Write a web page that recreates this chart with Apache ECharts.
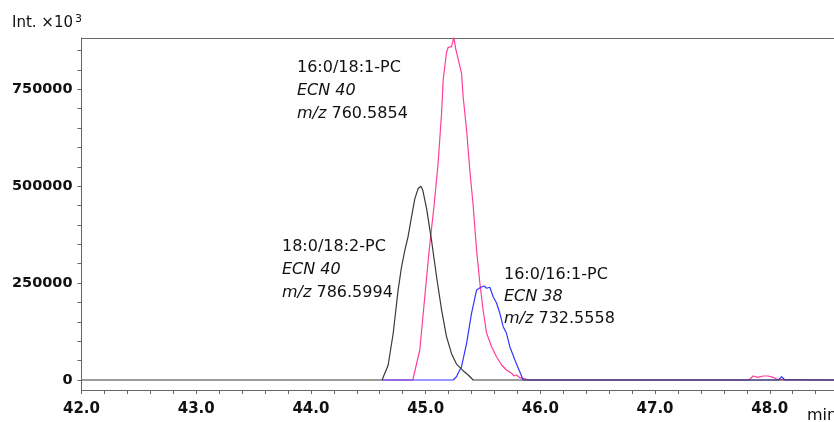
<!DOCTYPE html>
<html>
<head>
<meta charset="utf-8">
<script src="https://cdn.jsdelivr.net/npm/echarts@6/dist/echarts.min.js"></script>
<style>
html, body { margin: 0; padding: 0; background: #fff; }
#chart { width: 834px; height: 422px; }
</style>
</head>
<body>
<div id="chart"></div>
<script>
// retention time (min) and intensity for each trace
let pinkT = [44.62, 44.888, 44.949, 44.99, 45.031, 45.074, 45.109, 45.139, 45.153, 45.182, 45.196, 45.226, 45.246, 45.262, 45.298, 45.313, 45.327, 45.357, 45.385, 45.414, 45.444, 45.473, 45.501, 45.531, 45.575, 45.618, 45.662, 45.705, 45.749, 45.77, 45.793, 45.82, 45.836, 45.865, 45.88, 45.908, 47.82, 47.855, 47.899, 47.942, 47.986, 48.03, 48.065, 48.075, 48.56];
let pinkV = [0, 0, 77400, 206400, 335400, 451500, 559900, 688900, 774000, 845000, 858000, 860000, 884000, 855000, 810000, 791300, 730900, 645000, 541800, 451500, 335400, 249500, 180600, 121300, 85900, 60100, 38700, 25800, 17300, 11000, 12900, 6000, 8500, 3000, 4400, 0, 0, 10300, 6900, 10300, 10300, 6900, 1700, 0, 0];

let blueT = [44.62, 45.24, 45.269, 45.283, 45.313, 45.357, 45.40, 45.444, 45.481, 45.51, 45.531, 45.56, 45.589, 45.618, 45.647, 45.676, 45.705, 45.734, 45.778, 45.821, 45.85, 48.075, 48.103, 48.132, 48.56];
let blueV = [0, 0, 8500, 17300, 34300, 94700, 172100, 232200, 239200, 242500, 236600, 239200, 214900, 198700, 172100, 137500, 120500, 85900, 51600, 21400, 0, 0, 8500, 0, 0];

let blackT = [42.0, 44.62, 44.673, 44.717, 44.760, 44.790, 44.819, 44.847, 44.877, 44.906, 44.935, 44.958, 44.975, 45.008, 45.051, 45.095, 45.139, 45.182, 45.226, 45.269, 45.327, 45.371, 45.414, 48.56];
let blackV = [0, 0, 38000, 120000, 232000, 292000, 335000, 370000, 421000, 468000, 494000, 500000, 490000, 443000, 361000, 267000, 181000, 112000, 68000, 41000, 24000, 12900, 0, 0];

let yLabelValues = [0, 250000, 500000, 750000];
let xLabelValues = [42, 43, 44, 45, 46, 47, 48];

let peakNotes = [
    { x: 297, y: [68, 91, 114], name: '16:0/18:1-PC', ecn: 'ECN 40', mz: '760.5854' },
    { x: 282, y: [247, 270, 293], name: '18:0/18:2-PC', ecn: 'ECN 40', mz: '786.5994' },
    { x: 504, y: [275, 297, 319], name: '16:0/16:1-PC', ecn: 'ECN 38', mz: '732.5558' }
];

function pairs(t, v) {
    var out = [];
    for (var i = 0; i < t.length; i++) {
        out.push([t[i], v[i]]);
    }
    return out;
}

function steps(from, to, step) {
    var out = [];
    for (var v = from; v <= to + 1e-9; v += step) {
        out.push(+v.toFixed(2));
    }
    return out;
}

var FONT = "'DejaVu Sans', sans-serif";
var rich = { i: { fontStyle: 'italic', fontSize: 16, fontFamily: FONT, fill: '#111' } };

var graphics = [
    { type: 'text', x: 12, y: 23, style: { text: 'Int. \u00d710', font: '15px ' + FONT, fill: '#111', verticalAlign: 'middle' } },
    { type: 'text', x: 75, y: 19, style: { text: '3', font: '11px ' + FONT, fill: '#111', verticalAlign: 'middle' } },
    { type: 'text', x: 807, y: 416, style: { text: 'min', font: '16px ' + FONT, fill: '#111', verticalAlign: 'middle' } }
];
peakNotes.forEach(function (n) {
    var lines = [n.name, '{i|' + n.ecn + '}', '{i|m/z} ' + n.mz];
    lines.forEach(function (txt, k) {
        graphics.push({
            type: 'text', x: n.x, y: n.y[k],
            style: { text: txt, rich: rich, font: '16px ' + FONT, fill: '#111', verticalAlign: 'middle' }
        });
    });
});

var axisLine = { show: true, lineStyle: { color: '#666', width: 1 } };

var myChart = echarts.init(document.getElementById('chart'));
var option = {
    animation: false,
    backgroundColor: '#fff',
    grid: { left: 81.5, right: 0, top: 38, bottom: 32, outerBoundsMode: 'none', containLabel: false },
    xAxis: [{
        type: 'value',
        min: 42,
        max: 48.56,
        axisLine: Object.assign({ onZero: false }, axisLine),
        axisTick: { show: true, length: 4, customValues: steps(42, 48.4, 0.2), lineStyle: { color: '#666' } },
        axisLabel: {
            customValues: xLabelValues,
            formatter: function (v) { return v.toFixed(1); },
            margin: 12,
            fontFamily: FONT, fontWeight: 'bold', fontSize: 15, color: '#111'
        },
        splitLine: { show: false }
    }, {
        type: 'value',
        position: 'top',
        min: 42,
        max: 48.56,
        axisLine: Object.assign({ onZero: false }, axisLine),
        axisTick: { show: false },
        axisLabel: { show: false },
        splitLine: { show: false }
    }],
    yAxis: {
        type: 'value',
        min: -25800,
        max: 882400,
        axisLine: Object.assign({ onZero: false }, axisLine),
        axisTick: { show: true, length: 4, customValues: steps(0, 850000, 50000), lineStyle: { color: '#666' } },
        axisLabel: {
            customValues: yLabelValues,
            formatter: function (v) { return String(v); },
            margin: 9,
            fontFamily: FONT, fontWeight: 'bold', fontSize: 14.5, color: '#111'
        },
        splitLine: { show: false }
    },
    graphic: graphics,
    series: [
        { name: '16:0/18:1-PC', type: 'line', data: pairs(pinkT, pinkV), showSymbol: false, symbol: 'none', lineStyle: { color: '#ff3d9a', width: 1.2 } },
        { name: '16:0/16:1-PC', type: 'line', data: pairs(blueT, blueV), showSymbol: false, symbol: 'none', lineStyle: { color: '#3535ff', width: 1.2 } },
        { name: '18:0/18:2-PC', type: 'line', data: pairs(blackT, blackV), showSymbol: false, symbol: 'none', lineStyle: { color: '#3a3a3a', width: 1.2 } }
    ]
};
myChart.setOption(option);
</script>
</body>
</html>
